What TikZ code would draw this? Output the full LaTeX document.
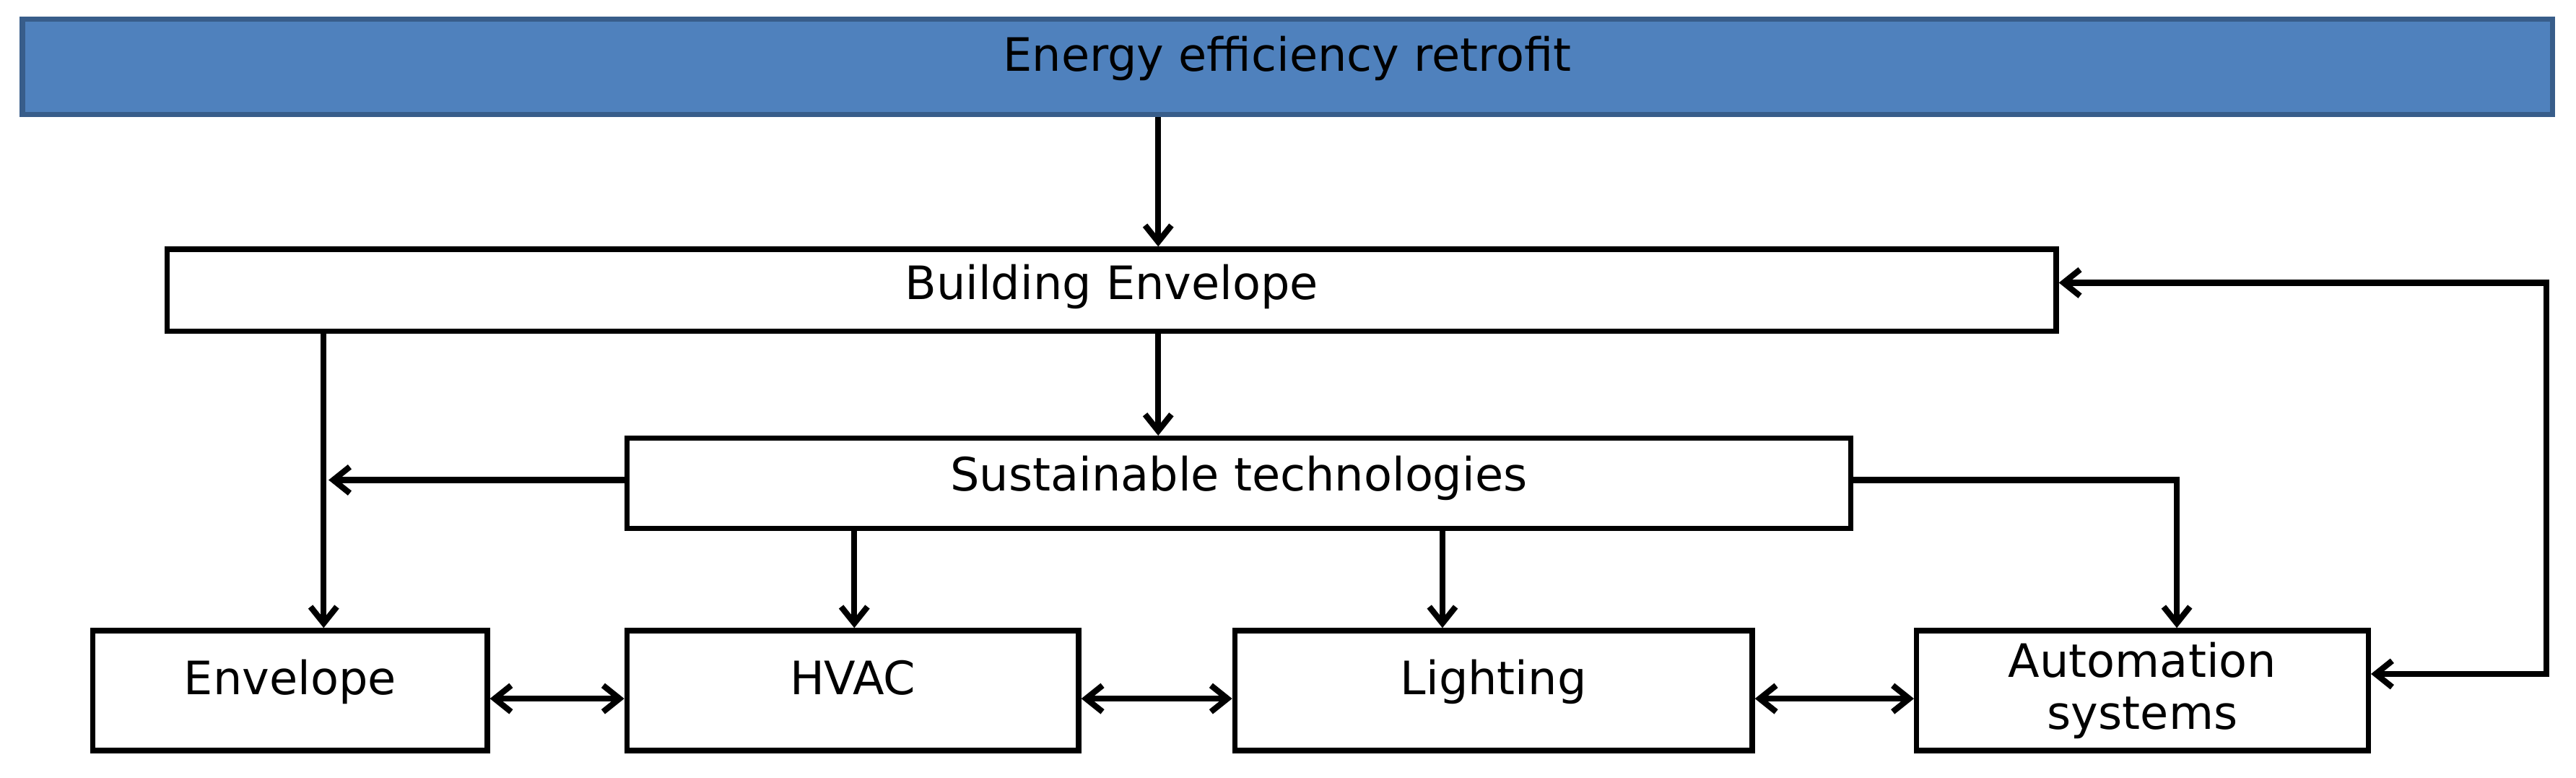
\documentclass[tikz,border=0pt]{standalone}
\usepackage{fontspec}
\setmainfont{DejaVu Sans}
\usetikzlibrary{arrows.meta}
\begin{document}
\begin{tikzpicture}[x=0.5pt,y=-0.5pt,
 box/.style={draw=black,line width=1.6pt,fill=white,inner sep=0pt,font=\fontsize{14}{16}\selectfont,align=center},
 ar/.style={line width=1.8pt,-{Straight Barb[length=5pt,width=8pt]}},
 dar/.style={line width=1.8pt,{Straight Barb[length=5pt,width=8pt]}-{Straight Barb[length=5pt,width=8pt]}}]
\useasboundingbox (0,0) rectangle (1568,473);
\node[box,fill={rgb,255:red,79;green,129;blue,189},draw={rgb,255:red,56;green,93;blue,138},minimum width=770pt,minimum height=29pt,anchor=north west] (top) at (12,10) {\raisebox{8pt}{Energy efficiency retrofit}};
\node[box,minimum width=575pt,minimum height=25pt,anchor=north west] (be) at (100,150) {\raisebox{5pt}{Building Envelope}};
\node[box,minimum width=372.5pt,minimum height=27.5pt,anchor=north west] (st) at (380,265) {\raisebox{6pt}{Sustainable technologies}};
\node[box,minimum width=120pt,minimum height=36.5pt,anchor=north west] (env) at (55,382) {\raisebox{8pt}{Envelope}};
\node[box,minimum width=137.5pt,minimum height=36.5pt,anchor=north west] (hvac) at (380,382) {\raisebox{8pt}{HVAC}};
\node[box,minimum width=157.5pt,minimum height=36.5pt,anchor=north west] (li) at (750,382) {\raisebox{8pt}{Lighting}};
\node[box,minimum width=137.5pt,minimum height=36.5pt,anchor=north west] (au) at (1165,382) {Automation\\systems};
\draw[ar] (top.south -| 705,0) -- (be.north -| 705,0);
\draw[ar] (be.south -| 705,0) -- (st.north -| 705,0);
\draw[ar] (be.south -| 197,0) -- (env.north -| 197,0);
\coordinate (j) at (200,292);
\draw[ar] (st.west |- 0,292) -- (j);
\draw[ar] (st.south -| 520,0) -- (hvac.north -| 520,0);
\draw[ar] (st.south -| 878,0) -- (li.north -| 878,0);
\draw[ar] (st.east |- 0,292) -| (au.north -| 1325,0);
\coordinate (r) at (1550,290);
\draw[ar] (r) |- (be.east |- 0,172);
\draw[ar] (r) |- (au.east |- 0,410);
\draw[dar] (env.east |- 0,425) -- (hvac.west |- 0,425);
\draw[dar] (hvac.east |- 0,425) -- (li.west |- 0,425);
\draw[dar] (li.east |- 0,425) -- (au.west |- 0,425);
\end{tikzpicture}
\end{document}
